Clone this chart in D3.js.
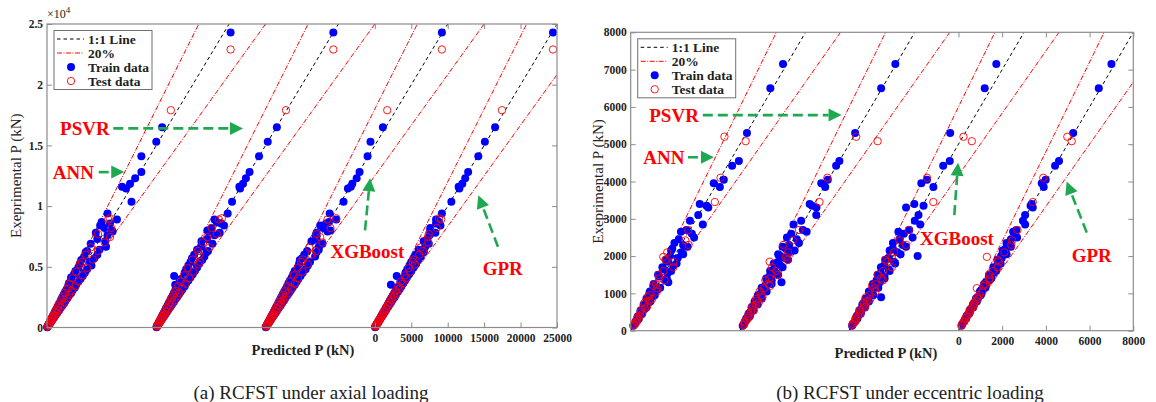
<!DOCTYPE html>
<html>
<head>
<meta charset="utf-8">
<script src="https://cdn.jsdelivr.net/npm/d3@7"></script>
<style>
body { margin: 0; background: #fff; }
text { font-family: "Liberation Serif", "Times New Roman", serif; }
</style>
</head>
<body>
<div id="chart"></div>
<script>
// ---- shared ----
var models = ["ANN", "PSVR", "XGBoost", "GPR"];

// ---- (a) axial loading ----
var offsetsA = [-45000, -30000, -15000, 0];
var xTicksA = [0, 5000, 10000, 15000, 20000, 25000];
var yTicksA = [0, 5000, 10000, 15000, 20000, 25000];

var trainExpA = [24300, 16500, 15300, 14100, 12800, 12300, 11850, 11600, 11450, 10350,
  8700, 8570, 8200, 7600, 7300, 6650,
  8900, 8400, 8000, 7800, 7100, 6900, 6400, 6300, 9400, 7900,
  6200, 6000, 5850, 5700, 5550, 5400, 5250, 5100, 4950, 4800,
  4650, 4500, 4380, 4250, 4120, 4000, 3880, 3760, 3640, 3520,
  3400, 3280, 3160, 3050, 2940, 2830, 2720, 2610, 2500, 2400,
  2300, 2200, 2100, 2000, 1900, 1800, 1700, 1600, 1500, 1400,
  1300, 1200, 1100, 1000, 920, 840, 760, 680, 600, 530,
  460, 400, 340, 280, 230, 180, 140, 100, 60, 30];
var annTrainA = [25200, 15800, 15000, 12950, 12950, 12100, 11400, 10300, 10850, 11600,
  7500, 8650, 7900, 8300, 6900, 8100,
  9600, 7300, 8900, 6700, 8000, 6000, 7200, 5500, 8300, 9000,
  5300, 6900, 5100, 6500, 4700, 5900, 4500, 6100, 4300, 5500,
  3900, 5200, 3700, 4900, 3300, 4600, 3300, 4300, 3000, 4000,
  2900, 3800, 2700, 3500, 2500, 3300, 2300, 3000, 2100, 2800,
  1950, 2550, 1800, 2350, 1600, 2100, 1450, 1850, 1280, 1650,
  1100, 1400, 930, 1170, 780, 980, 640, 800, 510, 620,
  390, 470, 290, 330, 195, 210, 120, 115, 55, 30];
var psvrTrainA = [24300, 16550, 15300, 14100, 12800, 12300, 11900, 11400, 11500, 10400,
  8300, 8900, 7600, 8000, 7000, 6200,
  8000, 9300, 7000, 8700, 6200, 7700, 5600, 7100, 9800, 7200,
  6900, 5200, 6600, 4900, 6300, 4700, 5900, 4400, 5600, 4100,
  5300, 3900, 5000, 2450, 4700, 3400, 4400, 3200, 4100, 2600,
  3900, 2800, 3600, 2600, 3350, 2400, 3100, 2250, 2850, 2050,
  2600, 1900, 2400, 1700, 2150, 1550, 1950, 1350, 1700, 1200,
  1480, 1020, 1250, 850, 1050, 720, 860, 580, 680, 450,
  520, 340, 390, 240, 260, 155, 160, 90, 65, 30];
var xgbTrainA = [24200, 16100, 14400, 14000, 12900, 12500, 11900, 11700, 11300, 10700,
  8700, 8300, 7900, 6900, 7000, 7300,
  9700, 7500, 8900, 7000, 6300, 7800, 7300, 5700, 8800, 8500,
  7000, 5300, 6800, 5000, 4700, 6100, 4600, 5800, 4400, 5500,
  4000, 5100, 3800, 4800, 3600, 4500, 3350, 4250, 3150, 4000,
  2950, 3700, 2750, 3450, 2550, 3200, 2350, 2950, 2150, 2700,
  2000, 2500, 1820, 2250, 1650, 2050, 1480, 1800, 1300, 1580,
  1130, 1360, 950, 1130, 800, 950, 660, 770, 520, 600,
  400, 450, 300, 315, 200, 200, 125, 110, 55, 30];
var gprTrainA = [24450, 16500, 15100, 14200, 12800, 12400, 12000, 11500, 11600, 10500,
  8800, 8400, 7600, 7500, 7200, 6900,
  8400, 9000, 7600, 8300, 6700, 7400, 6000, 6700, 9200, 7700,
  6700, 5600, 6300, 5300, 5950, 5000, 5650, 4750, 5300, 4450,
  5000, 4200, 4700, 3000, 4400, 3700, 4150, 3500, 3900, 2200,
  3650, 3050, 3400, 2850, 3150, 2650, 2900, 2450, 2700, 2250,
  2450, 2050, 2250, 1870, 2030, 1690, 1820, 1500, 1600, 1310,
  1390, 1120, 1180, 940, 980, 790, 810, 640, 640, 500,
  490, 375, 360, 265, 245, 170, 150, 95, 62, 30];

var testExpA = [22900, 17900, 9000, 8900, 7450,
  8200, 7700, 7000, 6600, 6300, 5400,
  6000, 5600, 5200, 4900, 4600, 4300, 4050, 3800, 3600, 3400,
  3200, 3000, 2850, 2700, 2550, 2400, 2250, 2100, 1980, 1860,
  1740, 1620, 1500, 1390, 1280, 1180, 1080, 990, 900, 810,
  720, 640, 560, 480, 410, 340, 270, 200, 130, 60];
var annTestA = [25200, 17000, 8600, 8400, 8650,
  8800, 7000, 7900, 6000, 7000, 4800,
  5300, 6300, 4500, 5500, 4000, 4900, 3500, 4300, 3100, 3900,
  2800, 3400, 2450, 3050, 2200, 2750, 1950, 2400, 1700, 2100,
  1500, 1850, 1300, 1580, 1100, 1340, 930, 1120, 780, 920,
  620, 730, 480, 550, 350, 390, 235, 225, 115, 60];
var psvrTestA = [24300, 17800, 9000, 8600, 7000,
  7600, 8300, 6400, 7300, 5700, 6000,
  5900, 5000, 5800, 4300, 5100, 3800, 4500, 3350, 4000, 3000,
  3550, 2650, 3150, 2400, 2850, 2100, 2500, 1850, 2200, 1650,
  1930, 1430, 1670, 1230, 1420, 1040, 1200, 880, 1000, 720,
  800, 570, 620, 430, 455, 300, 300, 180, 140, 60];
var xgbTestA = [24200, 16700, 9700, 8500, 7500,
  8900, 7000, 7800, 6000, 6900, 4900,
  6300, 5100, 5800, 4400, 5100, 3850, 4450, 3400, 4000, 3050,
  3550, 2700, 3150, 2420, 2800, 2150, 2480, 1880, 2180, 1670,
  1920, 1450, 1650, 1250, 1410, 1060, 1190, 890, 990, 730,
  790, 575, 615, 430, 450, 305, 295, 180, 140, 60];
var gprTestA = [24450, 17450, 8800, 9100, 7300,
  8500, 7400, 7300, 6300, 6600, 5200,
  6100, 5300, 5500, 4650, 4850, 4100, 4250, 3600, 3800, 3230,
  3380, 2850, 3000, 2570, 2690, 2280, 2370, 2000, 2080, 1770,
  1830, 1540, 1580, 1320, 1350, 1120, 1140, 940, 950, 770,
  760, 610, 590, 455, 430, 325, 285, 190, 137, 60];

// ---- (b) eccentric loading ----
var offsetsB = [-15000, -10000, -5000, 0];
var xTicksB = [0, 2000, 4000, 6000, 8000];
var yTicksB = [0, 1000, 2000, 3000, 4000, 5000, 6000, 7000, 8000];

var trainExpB = [7150, 6500, 5300, 4550, 4420, 4050, 3950, 3850, 3400, 3350,
  3300, 3100, 2950, 2700, 2600, 2450, 2300, 2200, 2100, 2000,
  1950, 1850, 1750, 1650, 1550, 1450, 1350, 1300, 1200, 1100,
  1000, 900, 820, 740, 660, 580, 500, 430, 360, 300,
  240, 180, 130,
  2850, 2650, 2500, 2350, 2250, 2150, 2050, 1900, 1800, 1700,
  1600, 1500, 1400, 1250, 1150, 1050, 950, 860, 780, 700,
  620, 540, 460, 390, 320];
var annTrainB = [6970, 6390, 5320, 4950, 4640, 4260, 3800, 4080, 3160, 3470,
  3550, 3090, 2710, 2550, 2800, 2200, 2400, 1900, 2330, 1800,
  2150, 1700, 1950, 1500, 1700, 1300, 1600, 1720, 1050, 1200,
  850, 950, 750, 800, 600, 640, 450, 470, 320, 330,
  210, 200, 120,
  3300, 2300, 2900, 2000, 2600, 1850, 2400, 1600, 2100, 1450,
  1850, 1250, 1650, 1050, 1350, 880, 1100, 720, 900, 590,
  720, 450, 530, 330, 370];
var psvrTrainB = [7110, 6460, 5270, 4550, 4400, 4020, 3720, 3900, 3190, 3300,
  3500, 3490, 2800, 2880, 2350, 2600, 2250, 2100, 2250, 1850,
  2050, 1750, 1850, 1550, 1650, 1350, 1450, 1900, 1150, 1150,
  950, 950, 780, 780, 620, 610, 480, 450, 340, 310,
  230, 185, 125,
  2450, 3050, 2150, 2700, 1950, 2500, 1750, 2200, 1550, 1950,
  1380, 1750, 1200, 1450, 990, 1220, 820, 1000, 670, 810,
  530, 620, 400, 450, 280];
var xgbTrainB = [6730, 6200, 4620, 4600, 4300, 3560, 3300, 3850, 2980, 3400,
  2600, 3170, 3000, 2750, 2500, 2300, 2450, 2000, 2200, 3130,
  1800, 2050, 1600, 1800, 1450, 1600, 1250, 1400, 1150, 1050,
  1000, 1460, 850, 700, 700, 550, 530, 400, 380, 280,
  250, 170, 130,
  3250, 2250, 2900, 2000, 2600, 1850, 2350, 1650, 2100, 1450,
  1850, 1300, 1620, 1080, 1330, 900, 1100, 740, 900, 600,
  720, 460, 530, 340, 370];
var gprTrainB = [7000, 6420, 5250, 4600, 4420, 3990, 3810, 3900, 3350, 3300,
  3400, 3050, 2950, 2650, 2600, 2400, 2350, 2150, 2150, 1950,
  1980, 1800, 1800, 1600, 1600, 1400, 1400, 1250, 1250, 1050,
  1050, 880, 840, 720, 680, 560, 520, 420, 370, 290,
  250, 175, 135,
  3050, 2500, 2680, 2200, 2400, 2020, 2200, 1780, 1930, 1600,
  1720, 1400, 1500, 1170, 1230, 980, 1020, 800, 840, 660,
  670, 505, 495, 365, 345];

var testExpB = [5200, 5080, 4100, 3450, 2700, 2420, 2100, 1980, 1850, 1600,
  1400, 1250, 1140, 950, 800, 700, 600, 500, 400, 300,
  220, 150,
  2300, 1900, 1700, 1500, 1350, 1200, 1050, 900, 850, 750,
  650, 550, 450, 350, 250, 180];
var annTestB = [4290, 5260, 4110, 3850, 2630, 2500, 1670, 1490, 1950, 1500,
  1300, 1150, 1200, 850, 850, 620, 650, 450, 420, 270,
  240, 140,
  2650, 1600, 1950, 1280, 1550, 1030, 1200, 770, 980, 640,
  750, 470, 520, 300, 290, 160];
var psvrTestB = [5320, 6300, 4000, 3640, 2700, 2420, 2200, 2100, 1360, 1650,
  1350, 1300, 1100, 980, 780, 720, 580, 520, 390, 310,
  210, 155,
  1980, 2180, 1460, 1720, 1160, 1380, 900, 1030, 730, 860,
  560, 630, 390, 400, 215, 205];
var xgbTestB = [5230, 5610, 3560, 3850, 2720, 2300, 2050, 1950, 1750, 1550,
  1450, 1200, 1150, 900, 820, 680, 620, 480, 410, 290,
  225, 145,
  2600, 1640, 1950, 1300, 1540, 1040, 1200, 780, 970, 650,
  740, 480, 510, 305, 285, 160];
var gprTestB = [4980, 5180, 3880, 3400, 2700, 2450, 2100, 1300, 1850, 1580,
  1420, 1230, 840, 960, 790, 710, 590, 510, 395, 305,
  218, 152,
  2420, 1800, 1790, 1420, 1420, 1140, 1100, 855, 895, 715,
  685, 525, 475, 335, 262, 172];

// annotation labels (data units of each panel)
var labelsA = [
  {text: "PSVR", x: -43200, y: 16400, ax: [-35900, 16400], bx: [-18100, 16400]},
  {text: "ANN", x: -44200, y: 12800, ax: [-37900, 12800], bx: [-34400, 12800]},
  {text: "XGBoost", x: -6100, y: 6250, ax: [-1350, 8000], bx: [-650, 12300]},
  {text: "GPR", x: 14800, y: 4900, ax: [16900, 6650], bx: [14200, 10900]}
];
var labelsB = [
  {text: "PSVR", x: -14150, y: 5780, ax: [-11700, 5780], bx: [-5350, 5780]},
  {text: "ANN", x: -14420, y: 4650, ax: [-12380, 4650], bx: [-11190, 4650]},
  {text: "XGBoost", x: -1760, y: 2480, ax: [-190, 3100], bx: [-20, 4500]},
  {text: "GPR", x: 5180, y: 2030, ax: [5870, 2630], bx: [4950, 4000]}
];

var axisColor = "#8c8c8c",
    red = "#ff0000",
    green = "#1fa84f";

var svg = d3.select("#chart").append("svg")
    .attr("width", 1156)
    .attr("height", 402)
    .style("background", "#fff");

function drawPanel(p) {
  var x = d3.scaleLinear().domain(p.xDomain).range([p.left, p.right]);
  var y = d3.scaleLinear().domain(p.yDomain).range([p.bottom, p.top]);
  var g = svg.append("g");
  var yMax = p.yDomain[1];

  g.append("clipPath").attr("id", p.id + "clip")
    .append("rect")
      .attr("x", p.left).attr("y", p.top)
      .attr("width", p.right - p.left).attr("height", p.bottom - p.top);

  var lines = g.append("g").attr("clip-path", "url(#" + p.id + "clip)");

  // 1:1 and 20% lines for each model
  p.offsets.forEach(function(off) {
    var ends = [
      {k: 1.2, dash: "5,1.5,1,1.5", color: red},
      {k: 1 / 1.2, dash: "5,1.5,1,1.5", color: red},
      {k: 1, dash: "3.5,3", color: "#000"}
    ];
    ends.forEach(function(e) {
      var xe = yMax * 1.3;
      lines.append("line")
        .attr("x1", x(off)).attr("y1", y(0))
        .attr("x2", x(off + xe)).attr("y2", y(xe * e.k))
        .attr("stroke", e.color)
        .attr("stroke-width", 1)
        .attr("stroke-dasharray", e.dash);
    });
  });

  // scatter: train then test for each model
  p.offsets.forEach(function(off, m) {
    g.append("g").selectAll("circle")
      .data(p.trainExp)
      .enter().append("circle")
        .attr("cx", function(d, i) { return x(off + p.trainPred[m][i]); })
        .attr("cy", function(d) { return y(d); })
        .attr("r", 4)
        .attr("fill", "#0000ff");
    g.append("g").selectAll("circle")
      .data(p.testExp)
      .enter().append("circle")
        .attr("cx", function(d, i) { return x(off + p.testPred[m][i]); })
        .attr("cy", function(d) { return y(d); })
        .attr("r", 3.7)
        .attr("fill", "none")
        .attr("stroke", red)
        .attr("stroke-width", 0.9);
  });

  // axes (ticks inside, box around)
  g.append("g")
    .attr("transform", "translate(" + p.left + ",0)")
    .call(d3.axisLeft(y).tickValues(p.yTicks).tickSizeInner(-5).tickSizeOuter(0)
      .tickPadding(4).tickFormat(p.yFormat));
  g.append("g")
    .attr("transform", "translate(" + p.right + ",0)")
    .call(d3.axisRight(y).tickValues(p.yTicks).tickSizeInner(-5).tickSizeOuter(0).tickFormat(""));
  g.append("g")
    .attr("transform", "translate(0," + p.top + ")")
    .call(d3.axisTop(x).tickValues(p.xTicks).tickSizeInner(-5).tickSizeOuter(0).tickFormat(""));
  g.append("g")
    .attr("transform", "translate(0," + p.bottom + ")")
    .call(d3.axisBottom(x).tickValues(p.xTicks).tickSizeInner(-5).tickSizeOuter(0)
      .tickPadding(6).tickFormat(function(d) { return d; }));

  g.selectAll(".domain").remove();
  g.selectAll(".tick line").attr("stroke", axisColor);
  g.selectAll(".tick text")
    .attr("fill", "#222")
    .style("font-family", "'Liberation Serif', serif")
    .style("font-weight", "bold")
    .style("font-size", "11.5px");

  g.append("rect")
    .attr("x", p.left).attr("y", p.top)
    .attr("width", p.right - p.left).attr("height", p.bottom - p.top)
    .attr("fill", "none")
    .attr("stroke", axisColor)
    .attr("stroke-width", 1.2);

  if (p.exponent) {
    var ex = g.append("text")
      .attr("x", p.left)
      .attr("y", p.top - 6)
      .attr("fill", "#222")
      .style("font-size", "12px");
    ex.append("tspan").text("\u00d710");
    ex.append("tspan").attr("dy", -5).style("font-size", "9px").text(p.exponent);
  }

  // axis titles
  g.append("text")
    .attr("transform", "translate(" + p.ylabelX + "," + ((p.top + p.bottom) / 2) + ") rotate(-90)")
    .attr("text-anchor", "middle")
    .attr("dy", "0.35em")
    .attr("fill", "#222")
    .style("font-size", "15px")
    .text("Exeprimental P (kN)");

  g.append("text")
    .attr("x", p.xlabelX)
    .attr("y", p.bottom + 22)
    .attr("text-anchor", "middle")
    .attr("dy", "0.35em")
    .attr("fill", "#222")
    .style("font-size", "14.5px")
    .style("font-weight", "bold")
    .text("Predicted P (kN)");

  // legend
  var lg = g.append("g").attr("transform", "translate(" + (p.left + 7) + "," + (p.top + 6.5) + ")");
  lg.append("rect")
    .attr("width", 98).attr("height", 59)
    .attr("fill", "#fff")
    .attr("stroke", "#707070")
    .attr("stroke-width", 1);
  var rows = [
    {name: "1:1 Line", type: "line", color: "#000", dash: "3.5,3"},
    {name: "20%", type: "line", color: red, dash: "5,1.5,1,1.5"},
    {name: "Train data", type: "dot"},
    {name: "Test data", type: "ring"}
  ];
  rows.forEach(function(r, i) {
    var ry = 8.5 + i * 14;
    if (r.type === "line") {
      lg.append("line")
        .attr("x1", 3).attr("x2", 30).attr("y1", ry).attr("y2", ry)
        .attr("stroke", r.color).attr("stroke-width", 1)
        .attr("stroke-dasharray", r.dash);
    } else if (r.type === "dot") {
      lg.append("circle").attr("cx", 17).attr("cy", ry).attr("r", 4).attr("fill", "#0000ff");
    } else {
      lg.append("circle").attr("cx", 17).attr("cy", ry).attr("r", 3.7)
        .attr("fill", "none").attr("stroke", red).attr("stroke-width", 0.9);
    }
    lg.append("text")
      .attr("x", 34).attr("y", ry)
      .attr("dy", "0.35em")
      .attr("fill", "#222")
      .style("font-size", "13.5px")
      .style("font-weight", "bold")
      .text(r.name);
  });

  // model annotations with dashed green arrows
  p.labels.forEach(function(l) {
    g.append("text")
      .attr("x", x(l.x)).attr("y", y(l.y))
      .attr("dy", "0.35em")
      .attr("fill", red)
      .style("font-size", "19px")
      .style("font-weight", "bold")
      .text(l.text);

    var x1 = x(l.ax[0]), y1 = y(l.ax[1]), x2 = x(l.bx[0]), y2 = y(l.bx[1]);
    var ang = Math.atan2(y2 - y1, x2 - x1);
    var hl = 13, hw = 6.5;
    var bxp = x2 - hl * Math.cos(ang), byp = y2 - hl * Math.sin(ang);
    g.append("line")
      .attr("x1", x1).attr("y1", y1).attr("x2", bxp).attr("y2", byp)
      .attr("stroke", green)
      .attr("stroke-width", 2.6)
      .attr("stroke-dasharray", "10,5");
    var px = -Math.sin(ang), py = Math.cos(ang);
    g.append("path")
      .attr("d", "M" + x2 + "," + y2 +
        "L" + (bxp + hw * px) + "," + (byp + hw * py) +
        "L" + (bxp - hw * px) + "," + (byp - hw * py) + "Z")
      .attr("fill", green);
  });

  // caption
  svg.append("text")
    .attr("x", p.captionX)
    .attr("y", 392)
    .attr("text-anchor", "middle")
    .attr("dy", "0.35em")
    .attr("fill", "#222")
    .style("font-size", "19px")
    .text(p.caption);
}

drawPanel({
  id: "a",
  left: 47, right: 557, top: 24, bottom: 327.5,
  xDomain: [-45000, 25000], yDomain: [0, 25000],
  offsets: offsetsA, xTicks: xTicksA, yTicks: yTicksA,
  yFormat: function(d) { return d / 10000; },
  exponent: "4",
  trainExp: trainExpA, trainPred: [annTrainA, psvrTrainA, xgbTrainA, gprTrainA],
  testExp: testExpA, testPred: [annTestA, psvrTestA, xgbTestA, gprTestA],
  labels: labelsA,
  ylabelX: 16, xlabelX: 303,
  captionX: 311, caption: "(a) RCFST under axial loading"
});

drawPanel({
  id: "b",
  left: 630.7, right: 1133.3, top: 32.3, bottom: 330.7,
  xDomain: [-15000, 8000], yDomain: [0, 8000],
  offsets: offsetsB, xTicks: xTicksB, yTicks: yTicksB,
  yFormat: function(d) { return d; },
  exponent: null,
  trainExp: trainExpB, trainPred: [annTrainB, psvrTrainB, xgbTrainB, gprTrainB],
  testExp: testExpB, testPred: [annTestB, psvrTestB, xgbTestB, gprTestB],
  labels: labelsB,
  ylabelX: 598, xlabelX: 886,
  captionX: 910, caption: "(b) RCFST under eccentric loading"
});
</script>
</body>
</html>
